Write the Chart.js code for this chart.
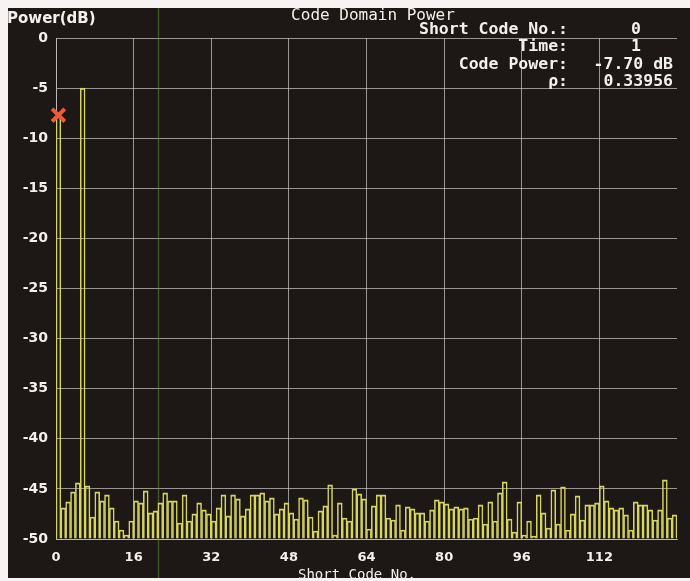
<!DOCTYPE html>
<html>
<head>
<meta charset="utf-8">
<script src="https://cdn.jsdelivr.net/npm/chart.js@4.4.1/dist/chart.umd.min.js"></script>
<style>
  html, body { margin: 0; padding: 0; background: #f7f3f2; }
  #wrap { width: 690px; height: 581px; }
</style>
</head>
<body>
<div id="wrap"><canvas id="cdp" width="690" height="581"></canvas></div>
<script>
// Code domain power per short code (dB), codes 0..127
const powerDb = [
  -7.7, -46.9, -46.3, -45.3, -44.4, -5.0, -44.7, -47.8,
  -45.3, -46.2, -45.6, -46.9, -48.2, -49.1, -49.6, -48.2,
  -46.2, -46.4, -45.2, -47.4, -47.2, -46.4, -45.4, -46.2,
  -46.2, -48.4, -45.6, -48.2, -47.5, -46.4, -47.1, -47.5,
  -48.2, -46.9, -45.6, -47.7, -45.6, -46.0, -47.7, -47.0,
  -45.6, -45.6, -45.4, -46.2, -45.9, -47.5, -47.0, -46.4,
  -47.4, -48.0, -45.9, -46.1, -47.8, -49.2, -47.2, -46.7,
  -44.6, -49.6, -46.4, -47.9, -48.2, -45.0, -45.5, -46.0,
  -49.0, -46.7, -45.6, -45.6, -47.9, -48.1, -46.6, -49.1,
  -46.8, -47.0, -47.4, -47.4, -48.2, -47.1, -46.1, -46.3,
  -46.5, -47.0, -46.8, -47.0, -46.9, -48.0, -47.9, -46.6,
  -48.5, -46.3, -48.2, -45.4, -44.3, -48.0, -49.3, -46.3,
  -49.6, -48.2, -49.7, -45.6, -47.4, -48.9, -45.1, -48.5,
  -44.8, -49.1, -47.5, -45.7, -48.1, -46.6, -46.6, -46.4,
  -44.7, -46.2, -46.9, -47.1, -46.9, -47.6, -49.1, -46.3,
  -46.6, -46.6, -47.1, -48.1, -47.1, -44.1, -47.9, -47.6
];
const codes = powerDb.map((_, i) => i);

// Axis ticks
const xTickValues = [0, 16, 32, 48, 64, 80, 96, 112];
const yTickValues = [0, -5, -10, -15, -20, -25, -30, -35, -40, -45, -50];
const xMin = 0, xMax = 128, yMin = -50, yMax = 0;

// Readout for the selected code
const selectedCode = 0;
const readoutTime = 1;
const rho = 0.33956;
const cursorCode = 21;

const COLORS = {
  page: '#f7f3f2',
  screen: '#1d1715',
  text: '#f2f0ec',
  grid: 'rgba(200,200,200,0.72)',
  bar: '#d6d65c',
  marker: '#ee5a3a',
  cursor: 'rgba(90,140,40,0.55)'
};
const MONO = '"DejaVu Sans Mono", monospace';
const SANS = '"DejaVu Sans", sans-serif';

const screenPlugin = {
  id: 'screen',
  beforeDraw(chart) {
    const { ctx, width, height } = chart;
    ctx.save();
    ctx.fillStyle = COLORS.page;
    ctx.fillRect(0, 0, width, height);
    ctx.fillStyle = COLORS.screen;
    ctx.fillRect(8, 8, width - 8, height - 11);
    ctx.restore();
  },
  beforeDatasetsDraw(chart) {
    const { ctx, scales } = chart;
    const x = Math.round(scales.x.getPixelForValue(cursorCode)) + 0.5;
    ctx.save();
    ctx.strokeStyle = COLORS.cursor;
    ctx.lineWidth = 1.5;
    ctx.beginPath();
    ctx.moveTo(x, 8);
    ctx.lineTo(x, chart.height - 3);
    ctx.stroke();
    ctx.restore();
  },
  afterDraw(chart) {
    const { ctx, width, height } = chart;
    ctx.save();
    ctx.fillStyle = COLORS.text;
    ctx.textBaseline = 'middle';

    // Title
    ctx.font = '16px ' + MONO;
    ctx.textAlign = 'center';
    ctx.fillText('Code Domain Power', 373, 16);

    // Value axis caption
    ctx.font = 'bold 15px ' + SANS;
    ctx.textAlign = 'left';
    ctx.fillText('Power(dB)', 7, 19);

    // Readout block
    ctx.font = 'bold 16.5px ' + MONO;
    ctx.textAlign = 'right';
    const labelRight = 568;
    ctx.fillText('Short Code No.:', labelRight, 30);
    ctx.fillText('Time:', labelRight, 47);
    ctx.fillText('Code Power:', labelRight, 65);
    ctx.fillText('\u03C1:', labelRight, 82);
    ctx.fillText(String(selectedCode), 641, 30);
    ctx.fillText(String(readoutTime), 641, 47);
    ctx.fillText(powerDb[selectedCode].toFixed(2) + ' dB', 673, 65);
    ctx.fillText(rho.toFixed(5), 673, 82);

    // Category axis caption
    ctx.font = '14px ' + MONO;
    ctx.textAlign = 'center';
    ctx.fillText('Short Code No.', 357, 575);

    // bottom margin of the screen
    ctx.fillStyle = COLORS.page;
    ctx.fillRect(0, height - 3, width, 3);
    ctx.restore();
  }
};

new Chart(document.getElementById('cdp'), {
  type: 'bar',
  data: {
    datasets: [
      {
        type: 'scatter',
        data: [{ x: selectedCode + 0.5, y: powerDb[selectedCode] }],
        pointStyle: 'crossRot',
        radius: 9,
        borderWidth: 4,
        borderColor: COLORS.marker,
        backgroundColor: COLORS.marker,
        clip: false,
        order: 0
      },
      {
        type: 'bar',
        data: codes.map(c => ({ x: c + 0.5, y: powerDb[c] })),
        base: yMin,
        backgroundColor: 'rgba(0,0,0,0)',
        borderColor: COLORS.bar,
        borderWidth: { top: 1.3, left: 0.9, right: 0.9, bottom: 0 },
        borderSkipped: false,
        barPercentage: 1,
        categoryPercentage: 1,
        order: 1
      }
    ]
  },
  options: {
    responsive: false,
    devicePixelRatio: 1,
    animation: false,
    events: [],
    layout: { padding: { top: 38, left: 0, right: 0, bottom: 0 } },
    plugins: { legend: { display: false }, tooltip: { enabled: false }, title: { display: false } },
    scales: {
      x: {
        type: 'linear',
        min: xMin,
        max: xMax,
        offset: false,
        afterBuildTicks: s => { s.ticks = xTickValues.map(v => ({ value: v })); },
        afterFit: s => { s.height = 42; },
        grid: { color: COLORS.grid, lineWidth: 1, drawTicks: false, offset: false },
        border: { color: COLORS.grid, width: 1 },
        ticks: {
          color: COLORS.text,
          font: { family: SANS, size: 13, weight: 'bold' },
          padding: 11,
          maxRotation: 0,
          autoSkip: false
        }
      },
      y: {
        min: yMin,
        max: yMax,
        afterBuildTicks: s => { s.ticks = yTickValues.map(v => ({ value: v })); },
        afterFit: s => { s.width = 56; },
        grid: { color: COLORS.grid, lineWidth: 1, drawTicks: false },
        border: { color: COLORS.grid, width: 1 },
        ticks: {
          color: COLORS.text,
          font: { family: SANS, size: 14, weight: 'bold' },
          padding: 8
        }
      }
    }
  },
  plugins: [screenPlugin]
});
</script>
</body>
</html>
